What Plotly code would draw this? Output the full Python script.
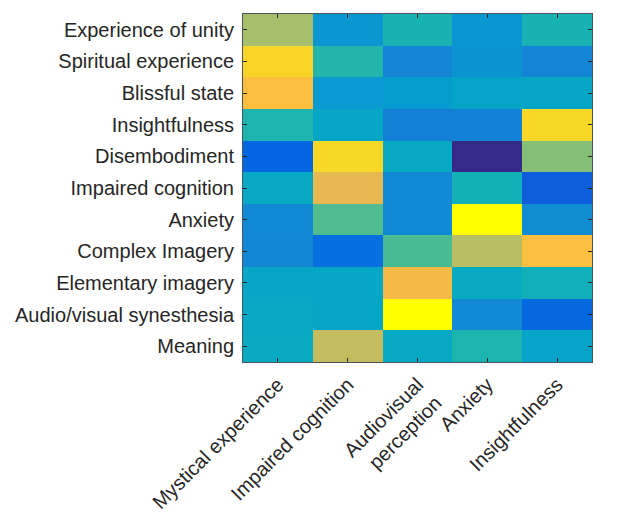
import plotly.graph_objects as go

rows = ["Experience of unity", "Spiritual experience", "Blissful state", "Insightfulness",
        "Disembodiment", "Impaired cognition", "Anxiety", "Complex Imagery",
        "Elementary imagery", "Audio/visual synesthesia", "Meaning"]
cols = ["Mystical experience", "Impaired cognition", "Audiovisual<br>perception",
        "Anxiety", "Insightfulness"]

mystical = [0.64, 0.87, 0.80, 0.44, 0.13, 0.37, 0.26, 0.25, 0.36, 0.37, 0.38]
impaired = [0.30, 0.45, 0.31, 0.36, 0.88, 0.75, 0.52, 0.16, 0.36, 0.36, 0.69]
audiovis = [0.43, 0.24, 0.32, 0.22, 0.37, 0.26, 0.26, 0.51, 0.78, 1.00, 0.37]
anxiety = [0.30, 0.29, 0.35, 0.23, 0.00, 0.42, 1.00, 0.67, 0.38, 0.26, 0.44]
insight = [0.43, 0.24, 0.36, 0.88, 0.59, 0.11, 0.27, 0.80, 0.41, 0.14, 0.35]

z = [[mystical[i], impaired[i], audiovis[i], anxiety[i], insight[i]] for i in range(len(rows))]

parula_pts = [
    (0.2081, 0.1663, 0.5292), (0.2123, 0.2138, 0.6270), (0.1959, 0.2645, 0.7279),
    (0.1253, 0.3242, 0.8303), (0.0117, 0.3875, 0.8820), (0.0165, 0.4266, 0.8786),
    (0.0498, 0.4586, 0.8641), (0.0723, 0.4887, 0.8467), (0.0793, 0.5200, 0.8312),
    (0.0641, 0.5570, 0.8240), (0.0343, 0.5966, 0.8199), (0.0239, 0.6287, 0.8038),
    (0.0228, 0.6535, 0.7768), (0.0384, 0.6743, 0.7436), (0.0843, 0.6928, 0.7062),
    (0.1453, 0.7098, 0.6646), (0.2178, 0.7250, 0.6193), (0.3022, 0.7376, 0.5712),
    (0.3953, 0.7459, 0.5244), (0.4871, 0.7491, 0.4840), (0.5709, 0.7485, 0.4494),
    (0.6473, 0.7456, 0.4188), (0.7184, 0.7411, 0.3905), (0.7858, 0.7356, 0.3633),
    (0.8507, 0.7299, 0.3360), (0.9139, 0.7258, 0.3063), (0.9739, 0.7314, 0.2666),
    (0.9990, 0.7653, 0.2164), (0.9880, 0.8066, 0.1794), (0.9697, 0.8481, 0.1475),
    (0.9589, 0.8949, 0.1132), (0.9661, 0.9514, 0.0755), (0.9763, 0.9831, 0.0538),
    (1.0, 1.0, 0.0)
]
n = len(parula_pts)
colorscale = [[i / (n - 1), "rgb(%d,%d,%d)" % tuple(round(c * 255) for c in p)]
              for i, p in enumerate(parula_pts)]

fig = go.Figure(go.Heatmap(
    z=z, x=cols, y=rows, colorscale=colorscale, zmin=0, zmax=1,
    showscale=False, hoverinfo="skip"
))

axis_common = dict(
    showline=True, linecolor="#4a5560", linewidth=1, mirror="allticks",
    ticks="inside", ticklen=4, tickcolor="#262626", showgrid=False, zeroline=False,
    automargin=False,
)

fig.update_layout(
    width=634, height=514,
    margin=dict(l=235, r=50, t=6, b=160),
    paper_bgcolor="white", plot_bgcolor="white",
    font=dict(family="Liberation Sans, Arial, sans-serif", size=20, color="#262626"),
    xaxis=dict(tickangle=-45, tickfont=dict(size=20), ticklabelstandoff=2, **axis_common),
    yaxis=dict(autorange="reversed", tickfont=dict(size=20), ticklabelstandoff=4,
               **axis_common),
)

fig.write_html("out.html")
